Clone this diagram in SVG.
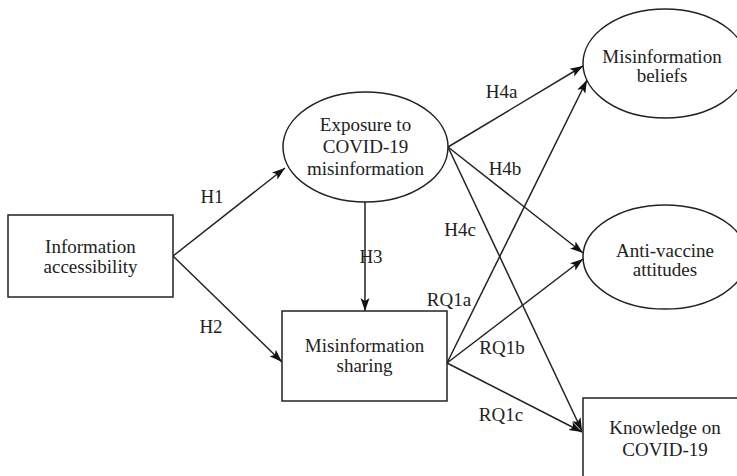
<svg xmlns="http://www.w3.org/2000/svg" width="737" height="476" viewBox="0 0 737 476">
<defs>
<style>
.shape{fill:#fff;stroke:#222;stroke-width:1.5}
.t{font-family:"Liberation Serif","Times New Roman",serif;font-size:19px;fill:#222;text-anchor:middle}
.c{stroke:#222;stroke-width:1.5;fill:none;marker-end:url(#ah)}
</style>
<marker id="ah" markerUnits="userSpaceOnUse" markerWidth="14" markerHeight="10" refX="13" refY="5" orient="auto">
<path d="M0,0.5 L13,5 L0,9.5 L3,5 z" fill="#111"/>
</marker>
</defs>
<rect width="737" height="476" fill="#fff"/>
<g id="connectors">
<line class="c" x1="173" y1="256" x2="285" y2="168"/>
<line class="c" x1="173" y1="256" x2="282" y2="362"/>
<line class="c" x1="365" y1="202" x2="365" y2="311"/>
<line class="c" x1="448" y1="147" x2="583" y2="66"/>
<line class="c" x1="448" y1="147" x2="583" y2="253"/>
<line class="c" x1="448" y1="147" x2="582" y2="431"/>
<line class="c" x1="447" y1="363" x2="587" y2="80"/>
<line class="c" x1="447" y1="363" x2="583" y2="259"/>
<line class="c" x1="447" y1="363" x2="582" y2="432"/>
<g class="t">
<text x="212" y="203">H1</text>
<text x="211" y="333">H2</text>
<text x="371" y="263">H3</text>
<text x="501.5" y="98">H4a</text>
<text x="505" y="175">H4b</text>
<text x="460" y="236">H4c</text>
<text x="449" y="306">RQ1a</text>
<text x="502" y="354">RQ1b</text>
<text x="501" y="421">RQ1c</text>
</g>
</g>
<g id="info">
<rect class="shape" x="8" y="215" width="165" height="82"/>
<text class="t" x="90.5" y="253">Information</text>
<text class="t" x="90.5" y="273">accessibility</text>
</g>
<g id="exposure">
<ellipse class="shape" cx="365.5" cy="147" rx="82.5" ry="55"/>
<text class="t" x="365.5" y="131">Exposure to</text>
<text class="t" x="365.5" y="153">COVID-19</text>
<text class="t" x="365.5" y="175">misinformation</text>
</g>
<g id="sharing">
<rect class="shape" x="282" y="311" width="165" height="90"/>
<text class="t" x="364.5" y="352">Misinformation</text>
<text class="t" x="364.5" y="372">sharing</text>
</g>
<g id="beliefs">
<ellipse class="shape" cx="665" cy="63.5" rx="82" ry="54.5"/>
<text class="t" x="662" y="63">Misinformation</text>
<text class="t" x="662" y="82">beliefs</text>
</g>
<g id="antivaccine">
<ellipse class="shape" cx="665" cy="257" rx="82" ry="52"/>
<text class="t" x="665" y="257">Anti-vaccine</text>
<text class="t" x="665" y="276">attitudes</text>
</g>
<g id="knowledge">
<rect class="shape" x="583" y="398" width="170" height="100"/>
<text class="t" x="665" y="434">Knowledge on</text>
<text class="t" x="665" y="456">COVID-19</text>
</g>
</svg>
